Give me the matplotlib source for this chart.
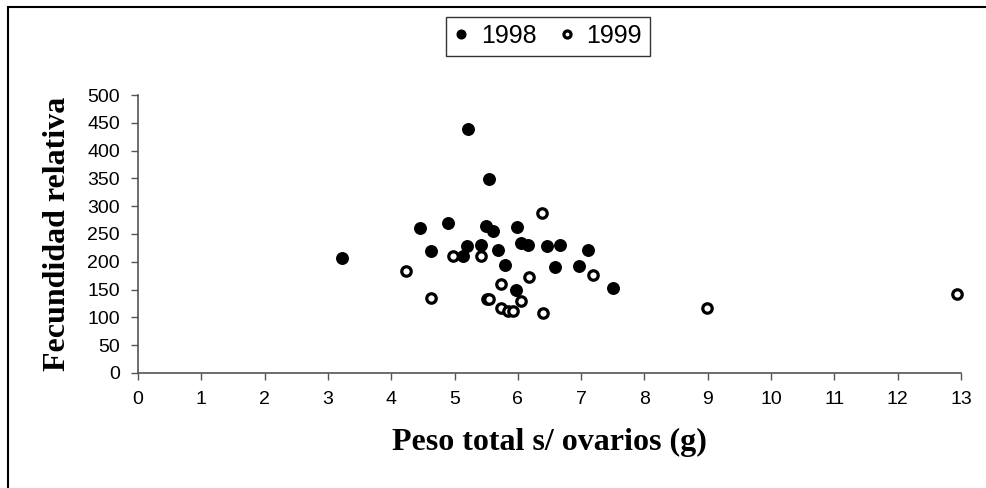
import matplotlib.pyplot as plt
from matplotlib.patches import Rectangle

# 1998 (filled markers)
x1998 = [3.23, 4.45, 4.63, 4.89, 5.14, 5.19, 5.21, 5.41, 5.49, 5.54, 5.61, 5.69,
         5.80, 5.97, 5.99, 6.05, 6.16, 6.46, 6.58, 6.66, 6.96, 7.11, 7.51]
y1998 = [206, 260, 219, 269, 210, 229, 438, 231, 265, 349, 255, 221,
         195, 149, 262, 234, 231, 229, 190, 231, 193, 221, 152]

# 1999 (open markers)
x1999 = [4.24, 4.63, 4.98, 5.41, 5.51, 5.55, 5.74, 5.74, 5.85, 5.93, 6.05,
         6.18, 6.38, 6.40, 7.18, 8.99, 12.94]
y1999 = [183, 135, 210, 210, 133, 133, 160, 116, 111, 111, 130,
         173, 287, 108, 176, 116, 142]

xticks = list(range(0, 14))
yticks = list(range(0, 501, 50))

fig = plt.figure(figsize=(9.87, 4.88), dpi=100)
ax = fig.add_axes([0.1398, 0.2357, 0.8339, 0.5696])

ax.plot(x1998, y1998, 'o', color='black', markersize=8.3, label='1998', clip_on=False)
ax.plot(x1999, y1999, 'o', markerfacecolor='white', markeredgecolor='black',
        markeredgewidth=2.3, markersize=6.8, label='1999', clip_on=False)

ax.set_xlim(0, 13)
ax.set_ylim(0, 500)
ax.set_xticks(xticks)
ax.set_yticks(yticks)
for s in ['top', 'right']:
    ax.spines[s].set_visible(False)
for s in ['left', 'bottom']:
    ax.spines[s].set_color('#555555')
    ax.spines[s].set_linewidth(1.2)
ax.tick_params(axis='both', direction='out', colors='#555555', labelcolor='black',
               labelsize=14, length=5, width=1)
ax.tick_params(axis='x', pad=8)
ax.tick_params(axis='y', pad=8)
for lab in ax.get_xticklabels() + ax.get_yticklabels():
    lab.set_fontfamily('Liberation Sans')

ax.set_xlabel('Peso total s/ ovarios (g)', fontfamily='Liberation Serif',
              fontweight='bold', fontsize=23, labelpad=14)
ax.set_ylabel('Fecundidad relativa', fontfamily='Liberation Serif',
              fontweight='bold', fontsize=23, labelpad=11)

leg = fig.legend(loc='center', bbox_to_anchor=(0.555, 0.926), ncol=2,
                 frameon=True, fancybox=False, edgecolor='black',
                 prop={'family': 'Liberation Sans', 'size': 18},
                 handlelength=0.6, handletextpad=0.5, columnspacing=0.9,
                 borderpad=0.3, markerscale=0.75)
leg.get_frame().set_linewidth(1.0)

# outer chart border
fig.patches.append(Rectangle((8 / 987, -0.05), 1.1, 1 - 7 / 488 + 0.05,
                             transform=fig.transFigure, fill=False,
                             edgecolor='black', linewidth=1.5))

fig.savefig('out.png', dpi=100)
